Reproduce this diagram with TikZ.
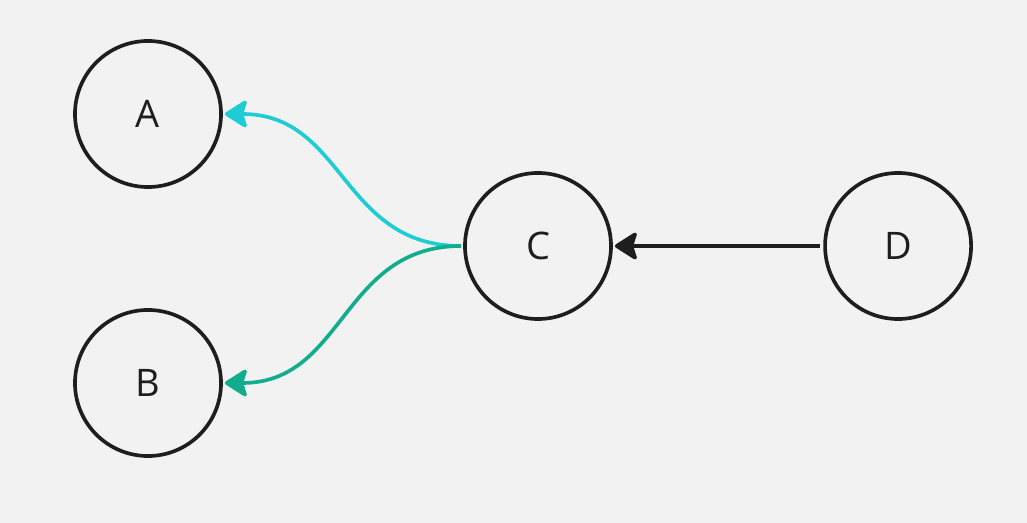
\documentclass[tikz,border=0pt]{standalone}
\usepackage{fontspec}
\setmainfont{Open Sans}
\usetikzlibrary{positioning,arrows.meta}
\definecolor{bgcol}{HTML}{F2F2F2}
\definecolor{inkcol}{HTML}{1E1E1E}
\definecolor{cyancol}{HTML}{1ECDD4}
\definecolor{tealcol}{HTML}{12AD8C}
\begin{document}
\begin{tikzpicture}[
    x=0.025cm, y=-0.025cm,
    node distance=9cm,
    vertex/.style={
        circle,
        draw=inkcol,
        line width=2.6pt,
        minimum size=3.65cm,
        inner sep=0pt,
        text=inkcol,
        font=\fontsize{27}{30}\selectfont
    },
    arrow/.style={
        -{Stealth[round, length=0.62cm, width=0.78cm, inset=0.12cm]},
        line width=2.6pt
    }
]

% Sfondo
\fill[bgcol] (0,0) rectangle (1027,523);
\useasboundingbox (0,0) rectangle (1027,523);

% Nodi
\node[vertex] (A) at (148,114) {\raisebox{-2pt}{A}};
\node[vertex] (B) at (148,383) {\raisebox{-2pt}{B}};
\node[vertex] (C) at (538,246) {\raisebox{-2pt}{C}};
\node[vertex, right of=C] (D) {\raisebox{-2pt}{D}};

% Archi
\draw[arrow, inkcol] ([xshift=-0.08cm]D.west) -- ([xshift=0.05cm]C.east);
\draw[arrow, cyancol] ([xshift=-0.05cm]C.west) .. controls +(-3cm,0) and +(3cm,0) .. ([xshift=0.05cm]A.east);
\draw[arrow, tealcol] ([xshift=-0.05cm]C.west) .. controls +(-3cm,0) and +(3cm,0) .. ([xshift=0.05cm]B.east);

\end{tikzpicture}
\end{document}
